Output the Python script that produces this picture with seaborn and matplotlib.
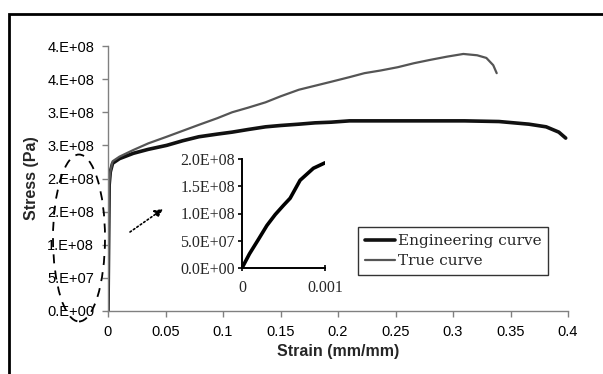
import matplotlib
matplotlib.use('Agg')
import matplotlib.pyplot as plt
from matplotlib.patches import Ellipse, Rectangle
import seaborn as sns
import pandas as pd

# strain (mm/mm) / stress (Pa)
eng_strain = [0, 0.001, 0.002, 0.004, 0.01, 0.022, 0.035, 0.051, 0.065, 0.079, 0.095,
              0.108, 0.122, 0.137, 0.15, 0.166, 0.18, 0.194, 0.21, 0.223, 0.25, 0.28,
              0.31, 0.34, 0.366, 0.381, 0.392, 0.398]
eng_stress = [0, 1.9e8, 2.1e8, 2.23e8, 2.3e8, 2.38e8, 2.44e8, 2.5e8, 2.57e8, 2.63e8, 2.67e8,
              2.7e8, 2.74e8, 2.78e8, 2.8e8, 2.82e8, 2.84e8, 2.85e8, 2.87e8, 2.87e8, 2.87e8, 2.87e8,
              2.87e8, 2.86e8, 2.82e8, 2.78e8, 2.7e8, 2.61e8]

true_strain = [0, 0.001, 0.002, 0.004, 0.01, 0.022, 0.035, 0.051, 0.065, 0.079, 0.095,
               0.108, 0.122, 0.137, 0.15, 0.166, 0.18, 0.194, 0.21, 0.223, 0.237, 0.252,
               0.266, 0.28, 0.295, 0.309, 0.321, 0.329, 0.335, 0.338]
true_stress = [0, 1.9e8, 2.1e8, 2.26e8, 2.33e8, 2.43e8, 2.53e8, 2.63e8, 2.72e8, 2.81e8, 2.91e8,
               3.0e8, 3.07e8, 3.15e8, 3.24e8, 3.34e8, 3.4e8, 3.46e8, 3.53e8, 3.59e8, 3.63e8, 3.68e8,
               3.74e8, 3.79e8, 3.84e8, 3.88e8, 3.86e8, 3.82e8, 3.71e8, 3.59e8]

inset_strain = [0, 0.00009, 0.0002, 0.0003, 0.0004, 0.0005, 0.00058, 0.0007, 0.00086, 0.001]
inset_stress = [0, 2.6e7, 5.3e7, 7.8e7, 9.8e7, 1.15e8, 1.28e8, 1.61e8, 1.83e8, 1.93e8]

x_ticks = [0, 0.05, 0.1, 0.15, 0.2, 0.25, 0.3, 0.35, 0.4]
x_ticklabels = ['0', '0.05', '0.1', '0.15', '0.2', '0.25', '0.3', '0.35', '0.4']
y_ticks = [0, 5e7, 1e8, 1.5e8, 2e8, 2.5e8, 3e8, 3.5e8, 4e8]
y_ticklabels = ['0.E+00', '5.E+07', '1.E+08', '2.E+08', '2.E+08', '3.E+08', '3.E+08', '4.E+08', '4.E+08']
inset_yticks = [0, 5e7, 1e8, 1.5e8, 2e8]
inset_yticklabels = ['0.0E+00', '5.0E+07', '1.0E+08', '1.5E+08', '2.0E+08']

sns.set_style('white')
plt.rcParams['font.family'] = ['Liberation Sans', 'DejaVu Sans']

df = pd.concat([
    pd.DataFrame({'strain': eng_strain, 'stress': eng_stress, 'curve': 'Engineering curve'}),
    pd.DataFrame({'strain': true_strain, 'stress': true_stress, 'curve': 'True curve'}),
])
df_in = pd.DataFrame({'strain': inset_strain, 'stress': inset_stress})

fig = plt.figure(figsize=(6.03, 3.74), dpi=100)
ax = fig.add_axes([108 / 603, 1 - 311 / 374, 460 / 603, 265 / 374])

sns.lineplot(ax=ax, data=df[df.curve == 'Engineering curve'], x='strain', y='stress',
             color='#111111', lw=2.6, sort=False, label='Engineering curve')
sns.lineplot(ax=ax, data=df[df.curve == 'True curve'], x='strain', y='stress',
             color='#555555', lw=1.6, sort=False, label='True curve')

ax.set_xlim(0, 0.4)
ax.set_ylim(0, 4e8)
ax.set_xticks(x_ticks)
ax.set_xticklabels(x_ticklabels)
ax.set_yticks(y_ticks)
ax.set_yticklabels(y_ticklabels)
ax.tick_params(axis='both', labelsize=10.5, colors='black', length=4, width=1, direction='out',
               left=True, bottom=True, pad=6)
ax.tick_params(axis='both', color='#808080')
for s in ['top', 'right']:
    ax.spines[s].set_visible(False)
for s in ['left', 'bottom']:
    ax.spines[s].set_color('#808080')
    ax.spines[s].set_linewidth(1)
ax.set_xlabel('Strain (mm/mm)', fontsize=11.5, fontweight='bold', labelpad=4)
ax.set_ylabel('Stress (Pa)', fontsize=11.5, fontweight='bold', labelpad=6)

leg = ax.legend(loc='upper left', bbox_to_anchor=((358 - 108) / 460, 1 - (227 - 46) / 265),
                frameon=True, fancybox=False, prop={'family': 'DejaVu Serif', 'size': 11},
                handlelength=2.0, handletextpad=0.15, borderpad=0.45, labelspacing=0.4,
                borderaxespad=0)
leg.get_frame().set_edgecolor('black')
leg.get_frame().set_linewidth(1)

# zoom of the elastic part
axin = fig.add_axes([242 / 603, 1 - 268 / 374, 83 / 603, 109 / 374])
sns.lineplot(ax=axin, data=df_in, x='strain', y='stress', color='black', lw=2.6, sort=False)
axin.set_xlim(0, 0.001)
axin.set_ylim(0, 2e8)
axin.set_xticks([0, 0.001])
axin.set_xticklabels(['0', '0.001'])
axin.set_yticks(inset_yticks)
axin.set_yticklabels(inset_yticklabels)
for t in axin.get_xticklabels() + axin.get_yticklabels():
    t.set_family('Liberation Serif')
    t.set_fontsize(11.5)
axin.tick_params(axis='y', direction='out', length=3, width=1.2, color='black', left=True, pad=2)
axin.tick_params(axis='x', direction='inout', length=5, width=1.2, color='black', bottom=True, pad=6)
axin.set_xlabel('')
axin.set_ylabel('')
axin.patch.set_alpha(0)
for s in ['top', 'right']:
    axin.spines[s].set_visible(False)
for s in ['left', 'bottom']:
    axin.spines[s].set_color('black')
    axin.spines[s].set_linewidth(1.4)

# dashed ellipse + dotted arrow pointing to the inset
fig.patches.append(Ellipse((79 / 603, 1 - 238 / 374), 52 / 603, 167 / 374, transform=fig.transFigure,
                           fill=False, ls=(0, (5, 4)), lw=1.3, ec='black'))
fig.patches.append(Rectangle((9 / 603, -0.1), 1.2, 1.1 - 14 / 374, transform=fig.transFigure,
                             fill=False, lw=2, ec='black'))
ax.annotate('', xy=(163 / 603, 1 - 209 / 374), xytext=(130 / 603, 1 - 232 / 374),
            xycoords='figure fraction', textcoords='figure fraction',
            arrowprops=dict(arrowstyle='-|>', ls=(0, (1, 1.5)), color='black', lw=1.2,
                            mutation_scale=12, shrinkA=0, shrinkB=0))

plt.savefig('out.png', dpi=100)
